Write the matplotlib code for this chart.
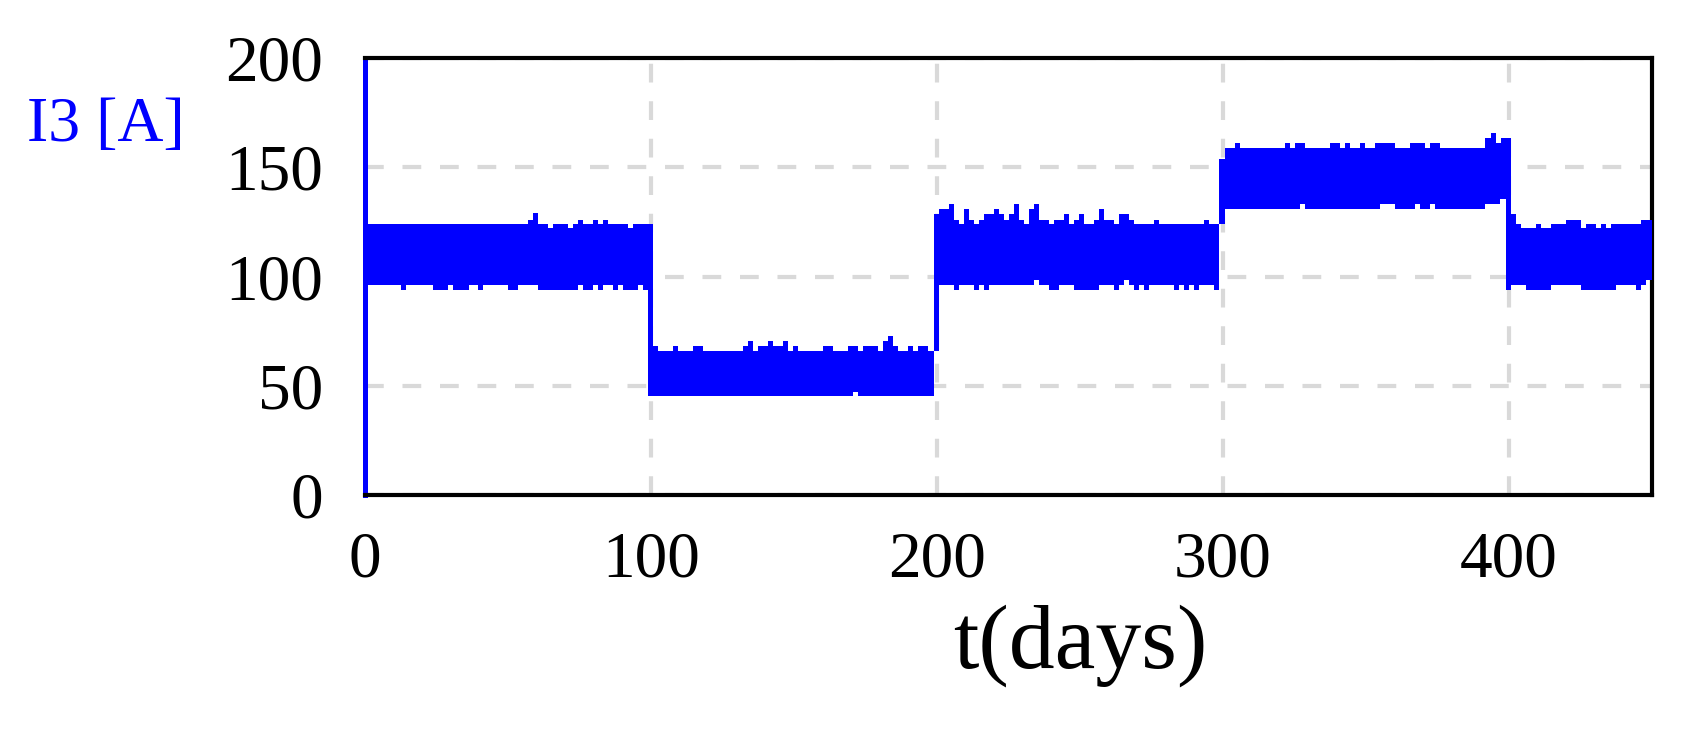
import numpy as np
import matplotlib
matplotlib.use('Agg')
import matplotlib.pyplot as plt

# envelope of the I3 signal (start day, value)
up_t = [0, 56.9, 58.6, 60.4, 63.9, 65.6, 70.9, 72.6, 74.4, 76.1, 79.6, 81.3, 83.1, 84.8, 91.8, 93.6,
        100.6, 102.3, 107.6, 109.3, 114.6, 118.1, 132.1, 133.8, 135.5, 137.3, 140.8, 142.5, 146, 147.8,
        149.5, 151.3, 160, 163.5, 168.8, 172.3, 174, 179.3, 181, 182.8, 184.5, 186.2, 189.7, 191.5,
        193.2, 196.7,
        198.9, 200.8, 204.3, 206, 207.8, 209.6, 211.3, 213.1, 214.8, 216.5, 220, 221.8, 223.5, 225.3,
        227, 228.8, 230.5, 232.3, 234, 235.8, 239.3, 241, 244.5, 246.3, 248, 249.8, 251.5, 255,
        256.8, 258.5, 262, 263.8, 267.2, 269, 276, 277.7, 293.5, 295.2,
        298.7, 300.8, 304.2, 306, 321.7, 323.5, 325.2, 328.7, 337.5, 341, 342.7, 344.5, 348, 349.7,
        353.2, 360.2, 365.4, 370.7, 372.4, 375.9, 391.7, 393.8, 395.5, 397.3,
        400.7, 402.4, 404.2, 409.4, 411.2, 414.7, 419.9, 425.2, 426.9, 430.4, 432.2, 433.9, 435.7, 446.2]
up_v = [124, 126, 129, 124, 122, 124, 122, 124, 126, 124, 126, 124, 126, 124, 122, 124,
        68, 66, 68, 66, 68, 66, 68, 70.5, 66, 68, 70.5, 68, 70.5, 66,
        68, 66, 68, 66, 68, 66, 68, 66, 70.5, 72.7, 68, 66, 68, 66,
        68, 66,
        128.6, 131, 133, 126, 124, 131, 126, 124, 126, 128.6, 131, 128.6, 126, 128.6,
        133, 126, 124, 131, 133, 126, 124, 126, 128.6, 124, 126, 128.6, 124, 126,
        131, 126, 124, 128.6, 126, 124, 126, 124, 126, 124,
        154, 159, 161, 159, 161, 159, 161, 159, 161, 159, 161, 159, 161, 159,
        161, 159, 161, 159, 161, 159, 163.3, 165.6, 161, 163.3,
        128.6, 124, 122, 124, 122, 124, 126, 122, 124, 122, 124, 122, 124, 126]

lo_t = [0, 12.6, 14.3, 23.7, 29, 30.6, 36.2, 39.4, 41.2, 49.9, 53.4, 60.4, 74.4, 76.1, 79.6, 81.3,
        83.1, 86.6, 88.3, 90.1, 95.3, 97.1,
        98.8, 170.7, 172.5,
        198.9, 200.8, 206, 207.8, 213.1, 214.8, 216.5, 218.3, 234, 235.8, 239.3, 242.8, 248, 256.8,
        262, 263.8, 265.5, 267.2, 269, 270.7, 272.5, 274.2, 283, 284.7, 286.5, 288.2, 290, 291.7, 297,
        298.7, 300.8, 327, 328.7, 355, 360.2, 367.2, 369, 372.4, 374.2, 391.7, 396.9,
        398.9, 400.7, 405.9, 414.7, 425.2, 437.4, 444.4, 446.2, 447.9]
lo_v = [96, 94, 96, 94, 96, 94, 96, 94, 96, 94, 96, 94, 96, 94, 96, 94,
        96, 94, 96, 94, 96, 94,
        45.5, 47.2, 45.5,
        66, 96, 94, 96, 94, 96, 94, 96, 98.5, 96, 94, 96, 94, 96,
        94, 96, 98.5, 96, 94, 96, 94, 96, 94, 96, 94, 96, 94, 96, 94,
        124, 131, 133, 131, 133, 131, 133, 131, 133, 131, 133, 135.4,
        94, 96, 94, 96, 94, 96, 94, 96, 98.5]
t_end = 450

x_ticks = [0, 100, 200, 300, 400]
y_ticks = [0, 50, 100, 150, 200]

plt.rcParams['font.family'] = ['Liberation Serif', 'DejaVu Serif']

fig, ax = plt.subplots(figsize=(16.89, 7.34), dpi=100)
fig.subplots_adjust(left=365 / 1689, right=1652 / 1689, bottom=1 - 495 / 734, top=1 - 58 / 734)

edges = np.append(np.union1d(up_t, lo_t), t_end)
hi = np.array(up_v)[np.searchsorted(up_t, edges[:-1], side='right') - 1]
lo = np.array(lo_v)[np.searchsorted(lo_t, edges[:-1], side='right') - 1]
ax.stairs(hi, edges, baseline=lo, fill=True, color='#0000ff', lw=0, zorder=3)

ax.set_xlim(0, t_end)
ax.set_ylim(0, 200)
ax.set_xticks(x_ticks)
ax.set_yticks(y_ticks)
ax.tick_params(length=0, labelsize=47)
ax.tick_params(axis='y', pad=30)
ax.tick_params(axis='x', pad=26)
ax.set_axisbelow(True)
ax.grid(True, color='#d9d9d9', linestyle=(0, (4.5, 4.5)), linewidth=3)

for side in ['top', 'right', 'bottom']:
    ax.spines[side].set_linewidth(3)
    ax.spines[side].set_color('black')
ax.spines['left'].set_linewidth(3.6)
ax.spines['left'].set_color('#0000ff')

ax.set_xlabel('t(days)', fontsize=66)
ax.xaxis.set_label_coords(0.556, -0.25)

fig.text(27 / 1689, 1 - 126 / 734, 'I3 [A]', color='#0000ff', fontsize=46,
         ha='left', va='center')

fig.savefig('out.png', dpi=100)
